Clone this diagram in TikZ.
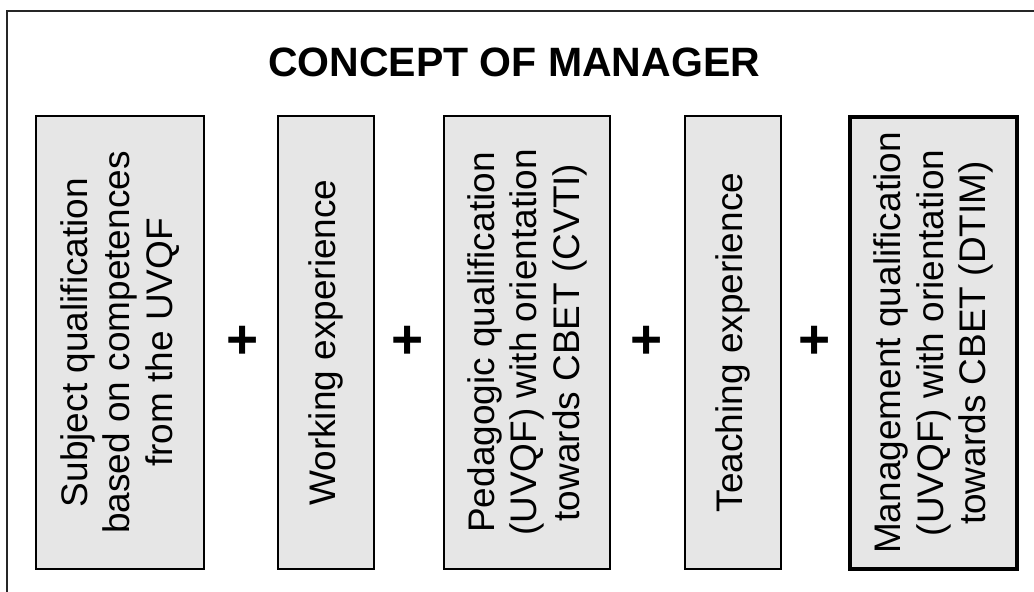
\documentclass[tikz,border=0pt]{standalone}
\usepackage{fontspec}
\setmainfont{Liberation Sans}
\begin{document}
\begin{tikzpicture}[x=1pt,y=-1pt,
  boxstyle/.style={draw=black, line width=1.5pt, fill=boxgray, rotate=90,
    inner sep=0pt, align=center,
    font=\fontsize{37}{42.5}\selectfont},
  thickbox/.style={boxstyle, line width=4pt},
  plussign/.style={font=\fontsize{55}{60}\selectfont\bfseries, inner sep=0pt},
  titlestyle/.style={font=\fontsize{41}{46}\selectfont\bfseries, inner sep=0pt}]
\definecolor{boxgray}{gray}{0.902}
\useasboundingbox (0,0) rectangle (1034,592);
\draw[line width=1.6pt, black!85] (7,11) rectangle (1045,605);
\node[titlestyle] (title) at (514,62) {CONCEPT OF MANAGER};
\node[boxstyle, minimum width=453pt, minimum height=168pt] (b1) at (120,342.5)
  {Subject qualification\\based on competences\\from the UVQF};
\node[boxstyle, minimum width=453pt, minimum height=96pt] (b2) at (326,342.5)
  {Working experience};
\node[boxstyle, minimum width=453pt, minimum height=166pt] (b3) at (527,342.5)
  {Pedagogic qualification\\(UVQF) with orientation\\towards CBET (CVTI)};
\node[boxstyle, minimum width=453pt, minimum height=96pt] (b4) at (733,342.5)
  {Teaching experience};
\node[thickbox, minimum width=452pt, minimum height=167pt] (b5) at (933.5,343)
  {Management qualification\\(UVQF) with orientation\\towards CBET (DTIM)};
\node[plussign] (p1) at (243,342) {+};
\node[plussign] (p2) at (408,342) {+};
\node[plussign] (p3) at (647,342) {+};
\node[plussign] (p4) at (815,342) {+};
\end{tikzpicture}
\end{document}
